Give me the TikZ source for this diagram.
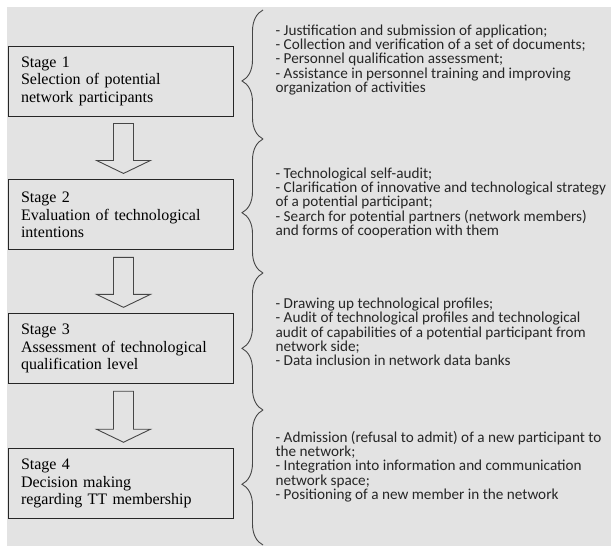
\documentclass[tikz,border=0pt]{standalone}
\usepackage{fontspec}
\setmainfont{Liberation Serif}
\newfontfamily\notefont{Carlito}
\usetikzlibrary{positioning,calc,decorations.pathreplacing}

\definecolor{bggray}{RGB}{227,227,227}
\definecolor{linegray}{RGB}{70,70,70}
\newcommand{\notesize}{\notefont\fontsize{15.2}{14.3}\selectfont\lineskiplimit=-20pt\relax}

\tikzset{
  stage/.style={draw=black!85, line width=0.9pt, minimum height=70pt,
    text width=199pt, inner xsep=13pt, align=left,
    font=\fontsize{16}{17.5}\selectfont},
  notes/.style={inner sep=0pt, align=left, text=black!85, font=\notesize},
  bigarrow/.style={draw=linegray, fill=bggray, line width=0.9pt},
  stagebrace/.style={draw=linegray, line width=0.9pt, decorate,
    decoration={brace, amplitude=21pt, aspect=0.45}}
}

\begin{document}
\begin{tikzpicture}[x=1pt, y=1pt]
  \useasboundingbox (0,0) rectangle (611,-546);
  \fill[bggray] (7,-7) rectangle (611,-546);

  % stages
  \node[stage] (s1) at (120.5,-81) {Stage 1\\Selection of potential\\network participants};
  \node[stage, below=63pt of s1] (s2) {Stage 2\\Evaluation of technological\\intentions};
  \node[stage, below=63pt of s2] (s3) {Stage 3\\Assessment of technological\\qualification level};
  \node[stage, below=64pt of s3] (s4) {Stage 4\\Decision making\\regarding TT membership};

  \foreach \a/\b in {s1/s2, s2/s3, s3/s4}
    \draw[bigarrow] ($(\a.south)+(-7,-7)$) -- ($(\b.north)+(-7,19)$)
      -- ($(\b.north)+(-24,19)$) -- ($(\b.north)+(3,6)$)
      -- ($(\b.north)+(30,19)$) -- ($(\b.north)+(13,19)$)
      -- ($(\a.south)+(13,-7)$) -- cycle;

  % braces
  \coordinate (b0) at (263,-10);
  \coordinate (b1) at (263,-139);
  \coordinate (b2) at (263,-273);
  \coordinate (b3) at (263,-410);
  \coordinate (b4) at (263,-545);
  \draw[stagebrace] (b1) -- (b0);
  \draw[stagebrace] (b2) -- (b1);
  \draw[stagebrace] (b3) -- (b2);
  \draw[stagebrace] (b4) -- (b3);

  % activities
  \node[notes, right=42pt of s1, yshift=21pt] (n1) {- Justification and submission of application;\\- Collection and verification of a set of documents;\\- Personnel qualification assessment;\\- Assistance in personnel training and improving\\organization of activities};
  \node[notes, right=42pt of s2, yshift=12pt] (n2) {- Technological self-audit;\\- Clarification of innovative and technological strategy\\of a potential participant;\\- Search for potential partners (network members)\\and forms of cooperation with them};
  \node[notes, right=42pt of s3, yshift=17pt] (n3) {- Drawing up technological profiles;\\- Audit of technological profiles and technological\\audit of capabilities of a potential participant from\\network side;\\- Data inclusion in network data banks};
  \node[notes, right=42pt of s4, yshift=17pt] (n4) {- Admission (refusal to admit) of a new participant to\\the network;\\- Integration into information and communication\\network space;\\- Positioning of a new member in the network};
\end{tikzpicture}
\end{document}
